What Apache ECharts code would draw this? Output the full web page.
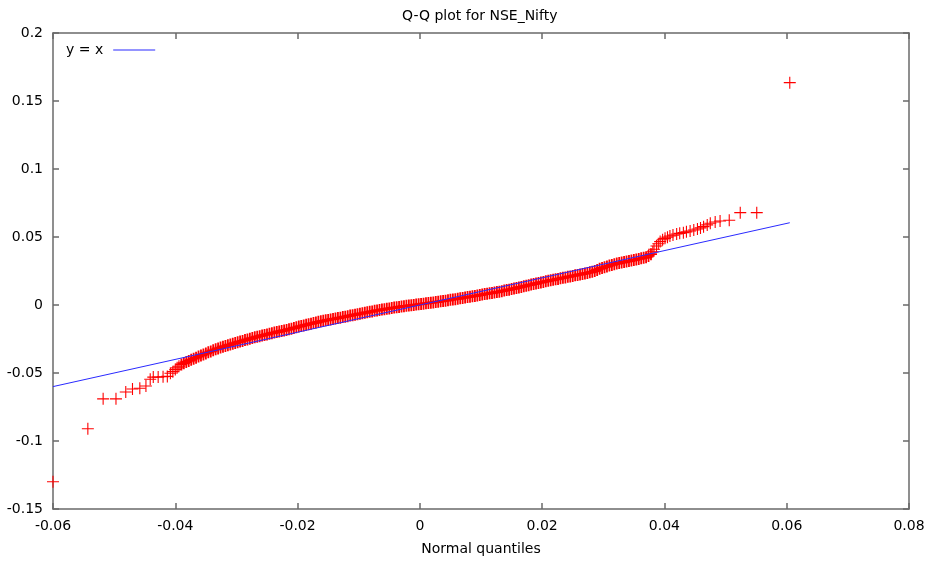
<!DOCTYPE html>
<html>
<head>
<meta charset="utf-8">
<script src="https://cdn.jsdelivr.net/npm/echarts@6/dist/echarts.min.js"></script>
<style>
  html, body { margin: 0; padding: 0; background: #fff; }
  #chart { width: 929px; height: 567px; }
</style>
</head>
<body>
<div id="chart"></div>
<script>
// axis ticks
const xTicks = { min: -0.06, max: 0.08, step: 0.02 };
const yTicks = { min: -0.15, max: 0.2, step: 0.05 };

// lower tail: single crosses
const lowTail = [
  [-0.0600, -0.1300], [-0.0543, -0.0910], [-0.0518, -0.0690], [-0.0497, -0.0690],
  [-0.0481, -0.0640], [-0.0470, -0.0618], [-0.0458, -0.0612], [-0.0448, -0.0596],
  [-0.0441, -0.0546], [-0.0436, -0.0530], [-0.0428, -0.0530], [-0.0420, -0.0528],
  [-0.0413, -0.0525], [-0.0408, -0.0502], [-0.0404, -0.0490], [-0.0400, -0.0475],
  [-0.0397, -0.0462], [-0.0394, -0.0450]
];

// dense middle band (normal quantile, sample quantile)
const bandX = [
  -0.0390, -0.0386, -0.0382, -0.0378, -0.0374, -0.0370, -0.0366, -0.0362, -0.0358, -0.0354,
  -0.0350, -0.0346, -0.0342, -0.0338, -0.0334, -0.0330, -0.0326, -0.0322, -0.0318, -0.0314,
  -0.0310, -0.0306, -0.0302, -0.0298, -0.0294, -0.0290, -0.0286, -0.0282, -0.0278, -0.0274,
  -0.0270, -0.0266, -0.0262, -0.0258, -0.0254, -0.0250, -0.0246, -0.0242, -0.0238, -0.0234,
  -0.0230, -0.0226, -0.0222, -0.0218, -0.0214, -0.0210, -0.0206, -0.0202, -0.0198, -0.0194,
  -0.0190, -0.0186, -0.0182, -0.0178, -0.0174, -0.0170, -0.0166, -0.0162, -0.0158, -0.0154,
  -0.0150, -0.0146, -0.0142, -0.0138, -0.0134, -0.0130, -0.0126, -0.0122, -0.0118, -0.0114,
  -0.0110, -0.0106, -0.0102, -0.0098, -0.0094, -0.0090, -0.0086, -0.0082, -0.0078, -0.0074,
  -0.0070, -0.0066, -0.0062, -0.0058, -0.0054, -0.0050, -0.0046, -0.0042, -0.0038, -0.0034,
  -0.0030, -0.0026, -0.0022, -0.0018, -0.0014, -0.0010, -0.0006, -0.0002, 0.0002, 0.0006,
  0.0010, 0.0014, 0.0018, 0.0022, 0.0026, 0.0030, 0.0034, 0.0038, 0.0042, 0.0046,
  0.0050, 0.0054, 0.0058, 0.0062, 0.0066, 0.0070, 0.0074, 0.0078, 0.0082, 0.0086,
  0.0090, 0.0094, 0.0098, 0.0102, 0.0106, 0.0110, 0.0114, 0.0118, 0.0122, 0.0126,
  0.0130, 0.0134, 0.0138, 0.0142, 0.0146, 0.0150, 0.0154, 0.0158, 0.0162, 0.0166,
  0.0170, 0.0174, 0.0178, 0.0182, 0.0186, 0.0190, 0.0194, 0.0198, 0.0202, 0.0206,
  0.0210, 0.0214, 0.0218, 0.0222, 0.0226, 0.0230, 0.0234, 0.0238, 0.0242, 0.0246,
  0.0250, 0.0254, 0.0258, 0.0262, 0.0266, 0.0270, 0.0274, 0.0278, 0.0282, 0.0286,
  0.0290, 0.0294, 0.0298, 0.0302, 0.0306, 0.0310, 0.0314, 0.0318, 0.0322, 0.0326,
  0.0330, 0.0334, 0.0338, 0.0342, 0.0346, 0.0350, 0.0354, 0.0358, 0.0362, 0.0366,
  0.0370, 0.0374, 0.0378
];
const bandY = [
  -0.0437, -0.0428, -0.0419, -0.0411, -0.0403, -0.0395, -0.0387, -0.0379, -0.0371, -0.0364,
  -0.0356, -0.0348, -0.0341, -0.0333, -0.0326, -0.0319, -0.0313, -0.0307, -0.0302, -0.0296,
  -0.0291, -0.0285, -0.0280, -0.0274, -0.0269, -0.0264, -0.0258, -0.0253, -0.0248, -0.0243,
  -0.0238, -0.0233, -0.0229, -0.0224, -0.0220, -0.0216, -0.0211, -0.0207, -0.0203, -0.0199,
  -0.0195, -0.0191, -0.0187, -0.0183, -0.0178, -0.0174, -0.0169, -0.0164, -0.0159, -0.0155,
  -0.0150, -0.0146, -0.0141, -0.0137, -0.0133, -0.0129, -0.0124, -0.0120, -0.0116, -0.0113,
  -0.0110, -0.0106, -0.0103, -0.0100, -0.0096, -0.0093, -0.0089, -0.0086, -0.0082, -0.0078,
  -0.0075, -0.0071, -0.0068, -0.0064, -0.0061, -0.0057, -0.0054, -0.0050, -0.0047, -0.0043,
  -0.0040, -0.0037, -0.0034, -0.0031, -0.0028, -0.0025, -0.0022, -0.0019, -0.0017, -0.0014,
  -0.0011, -0.0009, -0.0006, -0.0004, -0.0002, 0.0000, 0.0003, 0.0005, 0.0007, 0.0010,
  0.0012, 0.0014, 0.0017, 0.0019, 0.0022, 0.0024, 0.0027, 0.0030, 0.0032, 0.0035,
  0.0038, 0.0041, 0.0043, 0.0046, 0.0049, 0.0052, 0.0055, 0.0058, 0.0061, 0.0064,
  0.0067, 0.0070, 0.0073, 0.0077, 0.0080, 0.0083, 0.0086, 0.0089, 0.0092, 0.0095,
  0.0098, 0.0102, 0.0106, 0.0110, 0.0113, 0.0117, 0.0121, 0.0125, 0.0129, 0.0133,
  0.0137, 0.0142, 0.0146, 0.0150, 0.0154, 0.0158, 0.0162, 0.0166, 0.0170, 0.0174,
  0.0178, 0.0182, 0.0185, 0.0189, 0.0192, 0.0196, 0.0200, 0.0203, 0.0207, 0.0210,
  0.0214, 0.0218, 0.0221, 0.0225, 0.0228, 0.0232, 0.0236, 0.0240, 0.0244, 0.0250,
  0.0258, 0.0266, 0.0272, 0.0278, 0.0284, 0.0290, 0.0295, 0.0300, 0.0305, 0.0309,
  0.0312, 0.0316, 0.0320, 0.0323, 0.0327, 0.0331, 0.0335, 0.0339, 0.0343, 0.0347,
  0.0351, 0.0361, 0.0374
];

// upper tail
const highTail = [
  [0.0381, 0.0392], [0.0383, 0.0410], [0.0387, 0.0434], [0.0390, 0.0450], [0.0393, 0.0466],
  [0.0397, 0.0480], [0.0401, 0.0490], [0.0405, 0.0499], [0.0409, 0.0507], [0.0414, 0.0514],
  [0.0420, 0.0522], [0.0425, 0.0527], [0.0431, 0.0532], [0.0436, 0.0538], [0.0442, 0.0544],
  [0.0448, 0.0551], [0.0454, 0.0559], [0.0459, 0.0567], [0.0464, 0.0576], [0.0470, 0.0589],
  [0.0475, 0.0601], [0.0483, 0.0610], [0.0491, 0.0618], [0.0506, 0.0623], [0.0524, 0.0679],
  [0.0551, 0.0679], [0.0605, 0.1635]
];

// y = x reference line ends
const refLineX = [-0.06, 0.0605];

const bandPoints = bandX.map((x, i) => [x, bandY[i]]);
const tailPoints = lowTail.concat(highTail);

const chart = echarts.init(document.getElementById('chart'));
const FONT = 'DejaVu Sans';
const AXIS_COLOR = '#6a6a6a';
const crossThin = 'path://M0,5.45H12V6.55H0ZM5.45,0H6.55V12H5.45Z';
const crossBold = 'path://M0,5.1H12V6.9H0ZM5.1,0H6.9V12H5.1Z';
const fmt = v => String(+v.toFixed(2));

function axisBase(t, extra) {
  return Object.assign({
    type: 'value', min: t.min, max: t.max, interval: t.step,
    axisLine: { show: true, onZero: false, lineStyle: { color: AXIS_COLOR, width: 1.5 } },
    axisTick: { show: true, inside: true, length: 6, lineStyle: { color: AXIS_COLOR, width: 1.5 } },
    axisLabel: { show: false },
    splitLine: { show: false }
  }, extra);
}

chart.setOption({
  animation: false,
  backgroundColor: '#fff',
  textStyle: { fontFamily: FONT },
  title: {
    text: 'Q-Q plot for NSE_Nifty',
    left: 397, top: 4,
    textStyle: { fontFamily: FONT, fontSize: 14, fontWeight: 'normal', color: '#000' }
  },
  legend: {
    data: [{ name: 'y = x', icon: 'path://M0,0H42V1.2H0Z' }],
    left: 61, top: 38,
    align: 'right',
    itemWidth: 42, itemHeight: 12,
    symbolKeepAspect: true,
    textStyle: { fontFamily: FONT, fontSize: 14, color: '#000', padding: [0, 5, 0, 0] }
  },
  grid: { left: 53, right: 20, top: 33, bottom: 58 },
  xAxis: [
    axisBase(xTicks, {
      position: 'bottom',
      axisLabel: { show: true, margin: 10, fontSize: 14, color: '#000', fontFamily: FONT, formatter: fmt },
      name: 'Normal quantiles', nameLocation: 'middle', nameGap: 33,
      nameTextStyle: { fontFamily: FONT, fontSize: 14, color: '#000' }
    }),
    axisBase(xTicks, { position: 'top' })
  ],
  yAxis: [
    axisBase(yTicks, {
      position: 'left',
      axisLabel: { show: true, margin: 10, fontSize: 14, color: '#000', fontFamily: FONT, formatter: fmt }
    }),
    axisBase(yTicks, { position: 'right' })
  ],
  series: [
    {
      name: 'Q-Q',
      type: 'scatter',
      symbol: crossBold,
      symbolSize: 12,
      itemStyle: { color: '#ff0000', opacity: 1 },
      data: bandPoints,
      z: 2
    },
    {
      name: 'Q-Q tails',
      type: 'scatter',
      symbol: crossThin,
      symbolSize: 12,
      itemStyle: { color: '#ff0000', opacity: 1 },
      data: tailPoints,
      z: 2
    },
    {
      name: 'y = x',
      type: 'line',
      showSymbol: false,
      symbol: 'none',
      lineStyle: { color: '#2a2aff', width: 1 },
      itemStyle: { color: '#2a2aff' },
      data: refLineX.map(v => [v, v]),
      z: 3
    }
  ]
});
</script>
</body>
</html>
